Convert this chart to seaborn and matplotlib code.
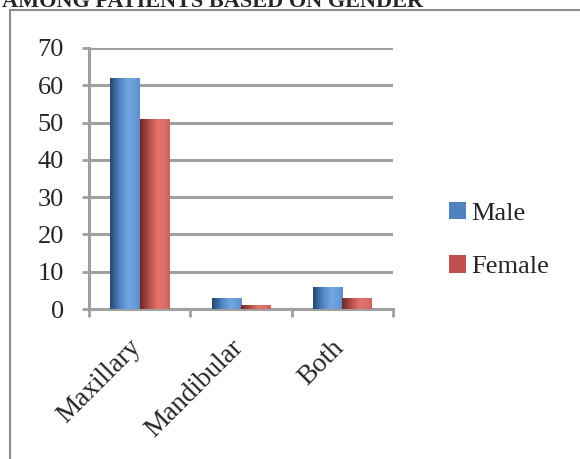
import numpy as np
import pandas as pd
import matplotlib
matplotlib.use("Agg")
import matplotlib.pyplot as plt
from matplotlib.colors import LinearSegmentedColormap
from matplotlib.lines import Line2D
from matplotlib.patches import Patch
from matplotlib.transforms import ScaledTranslation
import seaborn as sns

# Data
categories = ["Maxillary", "Mandibular", "Both"]
male = [62, 3, 6]
female = [51, 1, 3]
series_names = ["Male", "Female"]
y_ticks = [0, 10, 20, 30, 40, 50, 60, 70]

df = pd.DataFrame({
    "Site": categories * 2,
    "Count": male + female,
    "Gender": [series_names[0]] * 3 + [series_names[1]] * 3,
})

sns.set_theme(style="white")
plt.rcParams["font.family"] = ["Liberation Serif", "DejaVu Serif"]

fig = plt.figure(figsize=(5.8, 4.59), dpi=100)
ax = fig.add_axes([89 / 580, 1 - 309 / 459, (393 - 89) / 580, (309 - 48) / 459])

base_colors = {"Male": "#4F81BD", "Female": "#C0504D"}
sns.barplot(data=df, x="Site", y="Count", hue="Gender", order=categories,
            hue_order=series_names, palette=base_colors, width=0.58,
            saturation=1, ax=ax, legend=False, zorder=3)

# Cylinder-like horizontal shading on each bar
grad = {
    "Male": LinearSegmentedColormap.from_list(
        "m", ["#24476f", "#3e6ca3", "#5a8fcf", "#6fa5e0", "#6a9fdc", "#5b8cc6"]),
    "Female": LinearSegmentedColormap.from_list(
        "f", ["#6b2a28", "#9a423e", "#c85a55", "#e2736c", "#df6f68", "#c9625c"]),
}
ramp = np.linspace(0, 1, 256).reshape(1, -1)
for i, container in enumerate(ax.containers):
    name = series_names[i]
    for patch in container.patches:
        x0, y0 = patch.get_x(), patch.get_y()
        w, h = patch.get_width(), patch.get_height()
        im = ax.imshow(ramp, cmap=grad[name], aspect="auto",
                       extent=[x0, x0 + w, y0, y0 + h], zorder=3.5,
                       interpolation="bilinear")
        im.set_clip_path(patch)
        patch.set_edgecolor("none")

ax.set_xlim(-0.5, 2.5)
ax.set_ylim(0, 70)
ax.set_yticks(y_ticks)
ax.set_yticklabels([str(v) for v in y_ticks], fontsize=19)
ax.set_xticks(range(len(categories)))
ax.set_xticklabels([])
ax.set_xlabel("")
ax.set_ylabel("")

# Slanted category labels, hung just below each group
label_offset = ScaledTranslation(-11 / 100, -26 / 100, fig.dpi_scale_trans)
for i, name in enumerate(categories):
    ax.text(i, 0, name, transform=ax.get_xaxis_transform() + label_offset,
            rotation=45, rotation_mode="anchor", ha="right", va="top",
            fontsize=19.5)

grid_color = "#a0a0a0"
ax.yaxis.grid(True, color=grid_color, linewidth=2.2, zorder=0)
ax.set_axisbelow(True)
for s in ["top", "right"]:
    ax.spines[s].set_visible(False)
for s in ["left", "bottom"]:
    ax.spines[s].set_color(grid_color)
    ax.spines[s].set_linewidth(2.2)

ax.tick_params(axis="y", which="major", direction="out", length=5, width=2,
               color=grid_color, pad=13, left=True)
ax.tick_params(axis="x", which="major", length=0)
ax.set_xticks([-0.5, 0.5, 1.5, 2.5], minor=True)
ax.tick_params(axis="x", which="minor", direction="out", length=6, width=2,
               color=grid_color, bottom=True)

# Legend
handles = [Patch(facecolor=base_colors[n], edgecolor="none") for n in series_names]
fig.legend(handles, series_names, loc="center left",
           bbox_to_anchor=(438 / 580, 1 - 240 / 459), frameon=False,
           fontsize=19, handlelength=0.65, handleheight=0.65, handletextpad=0.2,
           labelspacing=1.15, borderaxespad=0)

# Outer chart frame
frame_color = "#8c8c8c"
fig.add_artist(Line2D([10 / 580, 10 / 580], [0, 1 - 10 / 459],
                      transform=fig.transFigure, color=frame_color, linewidth=1.5))
fig.add_artist(Line2D([10 / 580, 1], [1 - 10 / 459, 1 - 10 / 459],
                      transform=fig.transFigure, color=frame_color, linewidth=1.5))

# Heading text above the chart
fig.text(2 / 580, 1 - 7 / 459, "AMONG PATIENTS BASED ON GENDER",
         fontsize=16, fontweight="bold", ha="left", va="baseline")

fig.savefig("out.png", dpi=100)
